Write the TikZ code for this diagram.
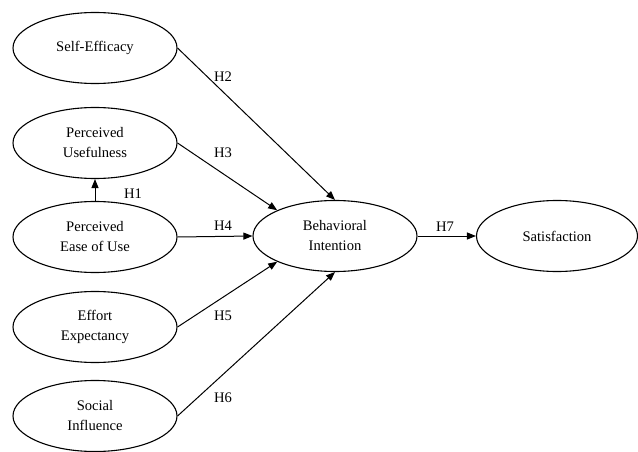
\documentclass[tikz,border=0pt]{standalone}
\usepackage{fontspec}
\setmainfont{Liberation Serif}
\usetikzlibrary{shapes.geometric,arrows.meta}
\begin{document}
\begin{tikzpicture}[x=1pt,y=-1pt,
  construct/.style={draw,ellipse,line width=1.1pt,minimum width=164pt,minimum height=71pt,inner sep=0pt,align=center,font=\fontsize{14.6}{20}\selectfont},
  path/.style={line width=1pt,-{Triangle[length=9pt,width=7pt]}},
  hlabel/.style={font=\fontsize{14.6}{16}\selectfont,inner sep=0pt}]
\useasboundingbox (0,0) rectangle (638,452);
\node[construct] (SE) at (95,48) {Self-Efficacy};
\node[construct] (PU) at (95,143) {Perceived\\Usefulness};
\node[construct] (PE) at (95,237) {Perceived\\Ease of Use};
\node[construct] (EE) at (95,327) {Effort\\Expectancy};
\node[construct] (SI) at (95,416) {Social\\Influence};
\node[construct] (BI) at (335,236) {Behavioral\\Intention};
\node[construct,minimum width=161pt] (SA) at (557,236) {Satisfaction};
\draw[path] (PE.north) -- (PU.south);
\draw[path] (SE.east) -- (BI.north);
\draw[path] (PU.east) -- (BI.156);
\draw[path] (PE.east) -- (BI.west);
\draw[path] (EE.east) -- (BI.204);
\draw[path] (SI.east) -- (BI.south);
\draw[path] (BI.east) -- (SA.west);
\node[hlabel] (h1) at (133,194) {H1};
\node[hlabel] (h2) at (223,77) {H2};
\node[hlabel] (h3) at (223,153) {H3};
\node[hlabel] (h4) at (223,226) {H4};
\node[hlabel] (h5) at (223,316) {H5};
\node[hlabel] (h6) at (223,398) {H6};
\node[hlabel] (h7) at (445,227) {H7};
\end{tikzpicture}
\end{document}
